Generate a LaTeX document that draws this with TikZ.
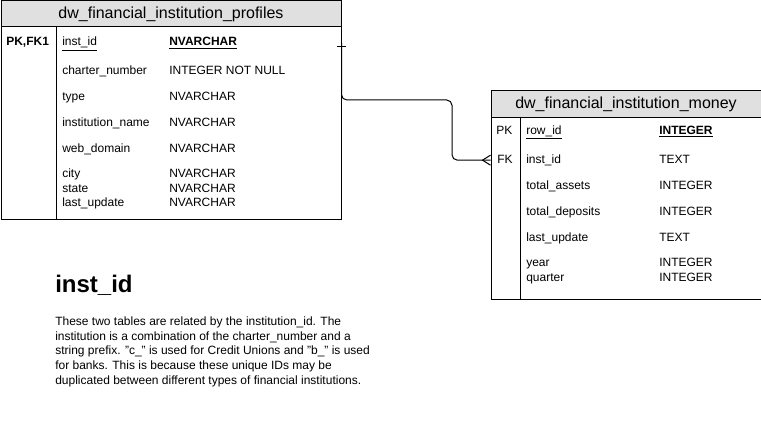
\documentclass[tikz,border=0pt]{standalone}
\usepackage{fontspec}
\setmainfont{Liberation Sans}
\usepackage{xcolor}
\usepackage{tikz}
\usetikzlibrary{positioning, calc}

\definecolor{hdrgray}{HTML}{E0E0E0}

\begin{document}
\begin{tikzpicture}[
    x=0.75pt, y=-0.75pt,
    % Styles for the table boxes
    tbl_head/.style={rectangle, draw=black, line width=0.75pt, fill=hdrgray, anchor=north west, inner sep=0pt, font=\fontsize{12}{14}\selectfont},
    tbl_body/.style={rectangle, draw=black, line width=0.75pt, fill=white, anchor=north west, inner sep=0pt},
    % Styles for the cell texts
    cell/.style={anchor=base west, inner sep=0pt, text height=6.5pt, text depth=1.5pt, font=\fontsize{9}{10.8}\selectfont},
    key_cell/.style={cell, font=\fontsize{9}{10.8}\selectfont\bfseries},
    % Styles for the connector
    link/.style={draw=black, line width=0.75pt},
    divider/.style={draw=black, line width=0.75pt}
]
    \useasboundingbox (0,0) rectangle (761,431);

    % =========================================================================
    % TABLE - dw_financial_institution_profiles
    % =========================================================================
    \node (profiles_hdr) [tbl_head, minimum width=255pt, minimum height=19.5pt] at (0.5,0.5) {dw\_financial\_institution\_profiles};
    \node (profiles_body) [tbl_body, minimum width=255pt, minimum height=144.75pt] at (0.5,26.5) {};
    \draw [divider] ($(profiles_body.north west)+(56,0)$) -- ($(profiles_body.south west)+(56,0)$);

    \node (p_key) [key_cell] at (6,46) {PK,FK1};
    \node (p_inst_id) [cell] at (62,46) {\underline{inst\_id}};
    \node (p_inst_id_type) [key_cell] at (169,46) {\underline{NVARCHAR}};
    \node (p_charter) [cell] at (62,75) {charter\_number};
    \node (p_charter_type) [cell] at (169,75) {INTEGER NOT NULL};
    \node (p_type) [cell] at (62,101) {type};
    \node (p_type_type) [cell] at (169,101) {NVARCHAR};
    \node (p_name) [cell] at (62,126.5) {institution\_name};
    \node (p_name_type) [cell] at (169,126.5) {NVARCHAR};
    \node (p_domain) [cell] at (62,152.5) {web\_domain};
    \node (p_domain_type) [cell] at (169,152.5) {NVARCHAR};
    \node (p_city) [cell] at (62,178) {city};
    \node (p_city_type) [cell] at (169,178) {NVARCHAR};
    \node (p_state) [cell] at (62,192.5) {state};
    \node (p_state_type) [cell] at (169,192.5) {NVARCHAR};
    \node (p_update) [cell] at (62,207) {last\_update};
    \node (p_update_type) [cell] at (169,207) {NVARCHAR};

    % =========================================================================
    % TABLE - dw_financial_institution_money
    % =========================================================================
    \node (money_hdr) [tbl_head, minimum width=202.5pt, minimum height=20.25pt] at (490.5,90.5) {dw\_financial\_institution\_money};
    \node (money_body) [tbl_body, minimum width=202.5pt, minimum height=136.5pt] at (490.5,117.5) {};
    \draw [divider] ($(money_body.north west)+(30,0)$) -- ($(money_body.south west)+(30,0)$);

    \node (m_pk) [cell] at (496,134.5) {PK};
    \node (m_row_id) [cell] at (526,134.5) {\underline{row\_id}};
    \node (m_row_id_type) [key_cell] at (659,134.5) {\underline{INTEGER}};
    \node (m_fk) [cell] at (497,163.5) {FK};
    \node (m_inst_id) [cell] at (526,163.5) {inst\_id};
    \node (m_inst_id_type) [cell] at (659,163.5) {TEXT};
    \node (m_assets) [cell] at (526,189.5) {total\_assets};
    \node (m_assets_type) [cell] at (659,189.5) {INTEGER};
    \node (m_deposits) [cell] at (526,215.5) {total\_deposits};
    \node (m_deposits_type) [cell] at (659,215.5) {INTEGER};
    \node (m_update) [cell] at (526,241.5) {last\_update};
    \node (m_update_type) [cell] at (659,241.5) {TEXT};
    \node (m_year) [cell] at (526,267) {year};
    \node (m_year_type) [cell] at (659,267) {INTEGER};
    \node (m_quarter) [cell] at (526,281.5) {quarter};
    \node (m_quarter_type) [cell] at (659,281.5) {INTEGER};

    % =========================================================================
    % RELATION - one profile to many money rows
    % =========================================================================
    \coordinate (link_start) at (profiles_body.east |- p_inst_id);
    \coordinate (link_end) at (money_body.west |- m_inst_id);
    \coordinate (link_bend) at (452,100);
    \draw [link, rounded corners=4pt] (link_start) |- (link_bend) |- (link_end);
    % one mark and crow's foot
    \draw [link] ($(link_start)+(-4.5,3.5)$) -- ++(9,0);
    \draw [link] ($(link_end)+(0,-5)$) -- ($(link_end)+(-8,0)$) -- ($(link_end)+(0,5)$);

    % =========================================================================
    % NOTE
    % =========================================================================
    \node (note_title) [anchor=base west, inner sep=0pt, font=\fontsize{18}{21}\selectfont\bfseries] at (55,292) {inst\_id};
    \node (note_text) [anchor=north west, inner sep=0pt, align=left, font=\fontsize{9}{11}\selectfont] at (55,316.5)
        {These two tables are related by the institution\_id. The\\
         institution is a combination of the charter\_number and a\\
         string prefix. "c\_" is used for Credit Unions and "b\_" is used\\
         for banks. This is because these unique IDs may be\\
         duplicated between different types of financial institutions.};

\end{tikzpicture}
\end{document}
